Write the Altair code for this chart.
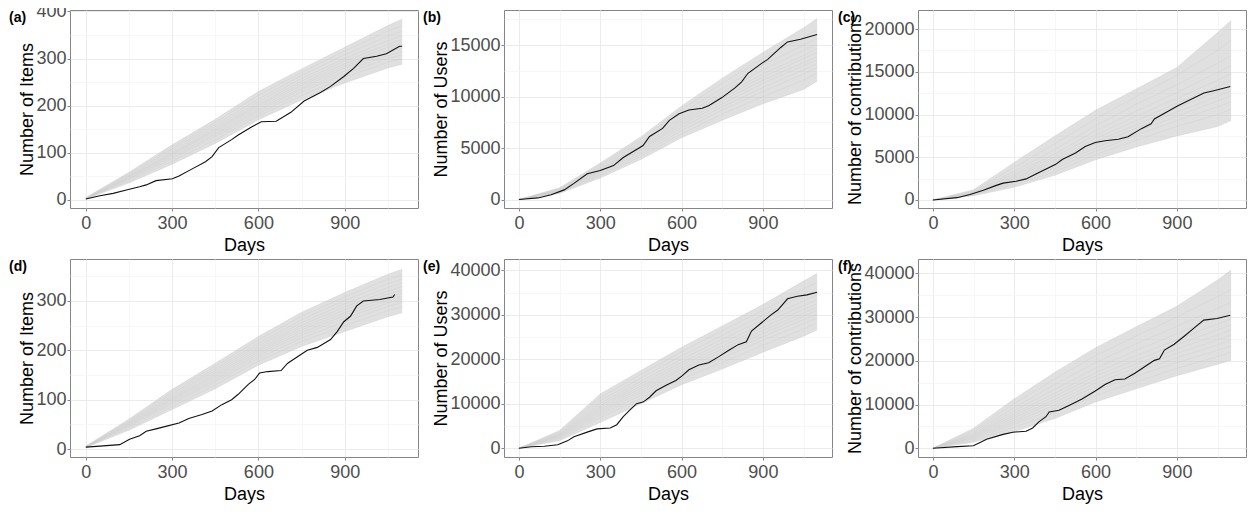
import altair as alt
import pandas as pd

FONT = "Liberation Sans"

# ---------------- data ----------------
SIM_DAYS = [0, 150, 300, 450, 600, 750, 900, 1050, 1100]

# (a) Items, first network
a_days = [0, 49, 95, 141, 187, 210, 244, 301, 324, 370, 416, 439, 462, 507, 530, 576, 610, 662, 713, 759, 816, 851, 897, 931, 965, 1011, 1045, 1091, 1100]
a_vals = [2, 9, 14, 21, 28, 32, 41, 45, 51, 66, 81, 92, 111, 128, 138, 155, 166, 167, 186, 210, 228, 241, 262, 279, 300, 305, 310, 326, 326]
a_sims = [
    [2, 36, 76, 120, 170, 212, 248, 280, 288],
    [3, 40, 82, 128, 178, 222, 260, 292, 300],
    [2, 43, 87, 134, 183, 229, 268, 300, 308],
    [3, 45, 90, 138, 188, 234, 274, 306, 314],
    [4, 46, 93, 141, 192, 238, 280, 312, 321],
    [2, 48, 96, 145, 196, 243, 284, 318, 327],
    [3, 49, 98, 148, 200, 247, 289, 324, 333],
    [4, 50, 100, 151, 203, 252, 295, 330, 340],
    [3, 52, 104, 155, 208, 258, 300, 338, 348],
    [4, 54, 108, 160, 214, 264, 308, 348, 358],
    [5, 56, 112, 165, 222, 270, 316, 358, 370],
    [5, 59, 117, 171, 230, 278, 324, 370, 384],
]

# (b) Users, first network
b_days = [0, 70, 119, 167, 203, 252, 300, 349, 385, 434, 458, 482, 530, 555, 591, 627, 676, 700, 749, 797, 821, 845, 894, 918, 966, 991, 1039, 1100]
b_vals = [0, 160, 470, 940, 1570, 2500, 2830, 3300, 4090, 4870, 5250, 6130, 6920, 7700, 8330, 8710, 8870, 9120, 9910, 10850, 11420, 12270, 13210, 13620, 14780, 15320, 15570, 16040]
b_sims = [
    [0, 600, 2100, 3900, 6000, 7700, 9300, 10700, 11500],
    [0, 680, 2300, 4200, 6400, 8300, 10000, 11600, 12300],
    [0, 720, 2450, 4400, 6700, 8700, 10500, 12200, 12800],
    [0, 780, 2600, 4600, 7000, 9000, 10900, 12600, 13200],
    [0, 820, 2700, 4800, 7250, 9300, 11300, 13000, 13600],
    [0, 850, 2800, 4900, 7450, 9600, 11600, 13300, 13900],
    [0, 880, 2900, 5050, 7650, 9850, 11900, 13700, 14300],
    [0, 920, 3000, 5200, 7850, 10100, 12200, 14000, 14700],
    [0, 960, 3100, 5400, 8100, 10400, 12600, 14500, 15100],
    [0, 1020, 3250, 5600, 8400, 10800, 13100, 15000, 15700],
    [0, 1080, 3400, 5850, 8750, 11300, 13700, 15800, 16500],
    [0, 1150, 3550, 6100, 9100, 11800, 14300, 16700, 17600],
]

# (c) Contributions, first network
c_days = [0, 89, 137, 186, 234, 259, 307, 344, 380, 429, 453, 477, 526, 562, 599, 635, 684, 720, 769, 805, 817, 866, 902, 951, 1000, 1036, 1097]
c_vals = [0, 270, 650, 1140, 1710, 1970, 2200, 2470, 3040, 3800, 4170, 4740, 5500, 6260, 6720, 6940, 7100, 7400, 8350, 8920, 9490, 10360, 11000, 11760, 12520, 12790, 13280]
c_sims = [
    [0, 480, 1500, 2900, 4700, 6200, 7500, 8600, 9300],
    [0, 560, 1800, 3300, 5300, 7000, 8600, 10000, 10600],
    [0, 620, 2000, 3700, 5700, 7600, 9300, 10900, 11500],
    [0, 680, 2200, 4000, 6100, 8000, 9800, 11600, 12200],
    [0, 720, 2350, 4200, 6500, 8400, 10300, 12100, 12800],
    [0, 760, 2500, 4500, 6850, 8800, 10800, 12700, 13400],
    [0, 800, 2650, 4750, 7200, 9300, 11300, 13300, 14000],
    [0, 850, 2850, 5050, 7600, 9800, 11900, 14000, 14800],
    [0, 900, 3050, 5400, 8100, 10400, 12600, 14900, 15700],
    [0, 980, 3350, 5900, 8700, 11200, 13500, 16000, 16900],
    [0, 1080, 3800, 6600, 9500, 12100, 14600, 17500, 18700],
    [0, 1200, 4400, 7500, 10500, 13000, 15500, 19600, 21000],
]

# (d) Items, second network
d_days = [0, 49, 118, 152, 187, 210, 244, 278, 324, 358, 404, 439, 473, 507, 530, 565, 587, 604, 633, 679, 702, 736, 770, 805, 851, 874, 897, 920, 942, 965, 1022, 1068, 1074]
d_vals = [4, 6, 9, 20, 27, 36, 41, 46, 53, 62, 70, 77, 90, 100, 111, 131, 141, 154, 157, 159, 174, 187, 200, 206, 222, 238, 258, 269, 290, 300, 303, 308, 313]
d_sims = [
    [3, 38, 80, 122, 170, 208, 238, 268, 276],
    [4, 42, 86, 130, 178, 218, 250, 280, 288],
    [3, 45, 91, 136, 184, 225, 258, 289, 297],
    [4, 47, 94, 140, 189, 231, 265, 296, 304],
    [5, 48, 97, 144, 193, 236, 271, 302, 310],
    [3, 50, 100, 148, 197, 241, 276, 308, 316],
    [4, 51, 102, 151, 201, 246, 282, 314, 322],
    [5, 53, 105, 155, 205, 251, 288, 320, 329],
    [4, 54, 108, 159, 210, 256, 294, 327, 336],
    [5, 56, 112, 163, 215, 262, 301, 335, 344],
    [6, 58, 116, 168, 221, 269, 308, 344, 353],
    [6, 61, 121, 174, 228, 277, 317, 354, 364],
]

# (e) Users, second network
e_days = [0, 46, 94, 143, 179, 203, 252, 288, 337, 361, 385, 409, 434, 458, 482, 506, 543, 579, 603, 627, 664, 700, 736, 773, 809, 839, 858, 894, 930, 955, 991, 1027, 1063, 1100]
e_vals = [0, 360, 440, 800, 1670, 2610, 3630, 4360, 4570, 5300, 7110, 8570, 10020, 10380, 11470, 12920, 14160, 15250, 16340, 17640, 18730, 19240, 20550, 22000, 23300, 23960, 26350, 28170, 29980, 31070, 33610, 34190, 34490, 35070]
e_sims = [
    [0, 1700, 5800, 10000, 14300, 17800, 21600, 25200, 26600],
    [0, 2100, 6900, 11200, 15600, 19300, 23200, 26800, 28200],
    [0, 2300, 7500, 11900, 16400, 20300, 24300, 28000, 29300],
    [0, 2500, 8000, 12500, 17000, 21000, 25100, 28900, 30200],
    [0, 2650, 8400, 13000, 17600, 21700, 25800, 29700, 31000],
    [0, 2800, 8800, 13500, 18100, 22300, 26500, 30400, 31700],
    [0, 2950, 9200, 14000, 18700, 23000, 27200, 31200, 32500],
    [0, 3100, 9600, 14500, 19300, 23700, 28000, 32100, 33400],
    [0, 3250, 10100, 15100, 20000, 24500, 28900, 33100, 34500],
    [0, 3450, 10700, 15800, 20800, 25400, 29900, 34300, 35700],
    [0, 3700, 11400, 16600, 21700, 26400, 31000, 35800, 37300],
    [0, 4000, 12200, 17500, 22700, 27500, 32300, 37600, 39300],
]

# (f) Contributions, second network
f_days = [0, 89, 149, 174, 198, 259, 295, 344, 368, 392, 417, 429, 465, 502, 550, 599, 635, 672, 708, 745, 781, 817, 836, 854, 890, 927, 963, 999, 1048, 1097]
f_vals = [0, 370, 590, 1330, 2060, 3170, 3680, 3900, 4640, 6110, 7220, 8320, 8690, 9800, 11270, 13110, 14580, 15690, 15840, 17160, 18640, 20110, 20480, 22470, 23790, 25630, 27480, 29320, 29690, 30420]
f_sims = [
    [0, 1400, 3800, 6800, 10600, 13600, 16600, 19200, 20100],
    [0, 1800, 4800, 8200, 12100, 15200, 18300, 21000, 22000],
    [0, 2100, 5500, 9100, 13200, 16500, 19600, 22400, 23400],
    [0, 2350, 6000, 9900, 14100, 17500, 20700, 23600, 24700],
    [0, 2550, 6500, 10600, 14900, 18400, 21700, 24800, 25900],
    [0, 2750, 7000, 11200, 15700, 19300, 22700, 25900, 27000],
    [0, 2950, 7500, 11900, 16500, 20200, 23700, 27100, 28200],
    [0, 3150, 8000, 12600, 17300, 21200, 24800, 28400, 29600],
    [0, 3400, 8600, 13500, 18300, 22400, 26200, 30000, 31300],
    [0, 3700, 9300, 14600, 19600, 23900, 27900, 32000, 33400],
    [0, 4100, 10200, 15900, 21200, 25700, 30000, 34700, 36300],
    [0, 4600, 11300, 17400, 23000, 27800, 32500, 38500, 40800],
]

x_ticks = [0, 150, 300, 450, 600, 750, 900, 1050]
items_ticks = [0, 50, 100, 150, 200, 250, 300, 350, 400]
users1_ticks = [0, 2500, 5000, 7500, 10000, 12500, 15000, 17500]
contrib1_ticks = [0, 2500, 5000, 7500, 10000, 12500, 15000, 17500, 20000]
big_ticks = [0, 5000, 10000, 15000, 20000, 25000, 30000, 35000, 40000]

PW_A, PW_B = 348, 328
PH = 198


def cond(test, minor_value, major_value):
    return {"condition": {"test": test, "value": minor_value}, "value": major_value}


def panel(tag, tag_dx, ytitle, od, ov, sims, ydom, yvals, ymajor, w, h):
    rows = []
    for i, s in enumerate(sims):
        for d, v in zip(SIM_DAYS, s):
            rows.append({"sim": i, "day": d, "v": v})
    sim_df = pd.DataFrame(rows)
    obs_df = pd.DataFrame({"day": od, "v": ov})

    xminor = "datum.value % 300 !== 0"
    yminor = "datum.value %% %d !== 0" % ymajor
    xaxis = alt.Axis(
        values=x_ticks, title="Days", format="d",
        labelExpr="datum.value % 300 === 0 ? datum.label : ''",
        gridColor=cond(xminor, "#F3F3F3", "#EBEBEB"),
        gridWidth=cond(xminor, 0.7, 1.0),
        tickOpacity=cond(xminor, 0, 1),
    )
    yaxis = alt.Axis(
        values=yvals, title=ytitle, format="d",
        labelExpr="datum.value %% %d === 0 ? datum.label : ''" % ymajor,
        gridColor=cond(yminor, "#F3F3F3", "#EBEBEB"),
        gridWidth=cond(yminor, 0.7, 1.0),
        tickOpacity=cond(yminor, 0, 1),
    )
    xs = alt.Scale(domain=[-55, 1155], nice=False, zero=False)
    ys = alt.Scale(domain=ydom, nice=False, zero=False)

    X = lambda f: alt.X(f, type="quantitative", scale=xs, axis=xaxis)
    Y = lambda f: alt.Y(f, type="quantitative", scale=ys, axis=yaxis)

    base = alt.Chart(sim_df)
    env = base.transform_aggregate(
        lo="min(v)", hi="max(v)", groupby=["day"]
    ).mark_area(color="#D0D0D0", opacity=0.25).encode(x=X("day"), y=Y("lo"), y2="hi:Q")
    core = base.transform_aggregate(
        lo="q1(v)", hi="q3(v)", groupby=["day"]
    ).mark_area(color="#C4C4C4", opacity=0.4).encode(x=X("day"), y=Y("lo"), y2="hi:Q")
    lines = base.mark_line(color="#C8C8C8", opacity=0.4, strokeWidth=0.8).encode(
        x=X("day"), y=Y("v"), detail="sim:N"
    )
    obs = alt.Chart(obs_df).mark_line(color="#111111", strokeWidth=1.1).encode(
        x=X("day"), y=Y("v")
    )
    lab = alt.Chart(pd.DataFrame({"t": [tag]})).mark_text(
        align="left", baseline="middle", fontSize=14, fontWeight="bold",
        font=FONT, color="black"
    ).encode(x=alt.value(tag_dx), y=alt.value(8), text="t:N")
    return alt.layer(env, core, lines, obs, lab).properties(width=w, height=h)


pa = panel("(a)", -61, "Number of Items", a_days, a_vals, a_sims, [-17, 403], items_ticks, 100, PW_A, PH)
pb = panel("(b)", -81, "Number of Users", b_days, b_vals, b_sims, [-820, 18420], users1_ticks, 5000, PW_B, PH)
pc = panel("(c)", -80, "Number of contributions", c_days, c_vals, c_sims, [-940, 22240], contrib1_ticks, 5000, PW_B, PH)
pd_ = panel("(d)", -61, "Number of Items", d_days, d_vals, d_sims, [-16, 385], items_ticks, 100, PW_A, PH)
pe = panel("(e)", -81, "Number of Users", e_days, e_vals, e_sims, [-1960, 42550], big_ticks, 10000, PW_B, PH)
pf = panel("(f)", -80, "Number of contributions", f_days, f_vals, f_sims, [-2000, 43300], big_ticks, 10000, PW_B, PH)

chart = alt.concat(
    pa, pb, pc, pd_, pe, pf,
    columns=3, spacing={"row": 51, "column": 86}, bounds="flush", align="each",
).properties(
    padding={"top": -7, "left": 0, "right": 0, "bottom": 0}
).configure(font=FONT).configure_view(
    stroke="#858585", strokeWidth=1
).configure_axis(
    domain=False,
    labelFont=FONT, labelFontSize=18, labelColor="#4D4D4D",
    titleFont=FONT, titleFontSize=18, titleColor="#000000", titleFontWeight="normal",
    tickColor="#858585", tickSize=3, tickWidth=1,
    labelOverlap=False, labelFlush=False,
).configure_axisX(
    labelPadding=3.7, titlePadding=4,
).configure_axisY(
    labelPadding=1, titlePadding=-1,
)

chart.save("out.html", embed_options={"renderer": "svg", "actions": False})
